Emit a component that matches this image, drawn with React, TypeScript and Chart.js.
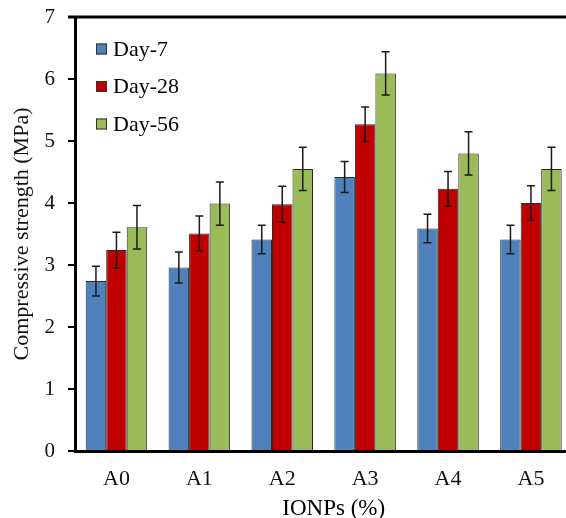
import React, { useEffect, useRef } from "react";
import { Chart, registerables } from "chart.js";

Chart.register(...registerables);

// Compressive strength by IONPs dosage, at three curing ages
const categories = ["A0", "A1", "A2", "A3", "A4", "A5"];
const seriesLabels = ["Day-7", "Day-28", "Day-56"];
const day7 = [2.74, 2.96, 3.41, 4.42, 3.59, 3.41];
const day28 = [3.24, 3.51, 3.98, 5.27, 4.23, 4.0];
const day56 = [3.61, 3.99, 4.55, 6.09, 4.8, 4.55];
const day7Err = [0.24, 0.25, 0.23, 0.25, 0.23, 0.23];
const day28Err = [0.29, 0.28, 0.29, 0.28, 0.28, 0.28];
const day56Err = [0.35, 0.35, 0.35, 0.35, 0.35, 0.35];
const yMin = 0;
const yMax = 7;
const yStep = 1;
const xTitle = "IONPs (%)";
const yTitle = "Compressive strength (MPa)";

const seriesColors = ["#4F81BD", "#C00000", "#9BBB59"];
const FONT = "'Liberation Serif', 'Times New Roman', serif";

// Vertical error bars drawn at each bar's centre
const errorBarPlugin = {
  id: "errorBars",
  afterDatasetsDraw(chart: any) {
    const { ctx } = chart;
    const yScale = chart.scales.y;
    chart.data.datasets.forEach((ds: any, i: number) => {
      const meta = chart.getDatasetMeta(i);
      meta.data.forEach((bar: any, j: number) => {
        const v = ds.data[j];
        const e = ds.errors[j];
        const top = yScale.getPixelForValue(v + e);
        const bot = yScale.getPixelForValue(v - e);
        const cap = 4;
        ctx.save();
        ctx.strokeStyle = "#1a1a1a";
        ctx.lineWidth = 1.5;
        ctx.beginPath();
        ctx.moveTo(bar.x, top);
        ctx.lineTo(bar.x, bot);
        ctx.moveTo(bar.x - cap, top);
        ctx.lineTo(bar.x + cap, top);
        ctx.moveTo(bar.x - cap, bot);
        ctx.lineTo(bar.x + cap, bot);
        ctx.stroke();
        ctx.restore();
      });
    });
  },
};

// Top frame line, legend inside the plot and the x-axis title
const decorPlugin = {
  id: "decor",
  afterDraw(chart: any) {
    const { ctx, chartArea } = chart;
    const yScale = chart.scales.y;
    ctx.save();
    // top frame line
    const yTop = yScale.getPixelForValue(yMax);
    ctx.strokeStyle = "#000";
    ctx.lineWidth = 3;
    ctx.beginPath();
    ctx.moveTo(chartArea.left - 7, yTop);
    ctx.lineTo(chart.width, yTop);
    ctx.stroke();

    // legend
    ctx.font = `22px ${FONT}`;
    ctx.textBaseline = "middle";
    ctx.textAlign = "left";
    chart.data.datasets.forEach((ds: any, i: number) => {
      const cy = chartArea.top + 32 + i * 37.5;
      const bx = chartArea.left + 21;
      ctx.fillStyle = ds.backgroundColor;
      ctx.fillRect(bx, cy - 5.5, 11, 11);
      ctx.strokeStyle = "#333";
      ctx.lineWidth = 1;
      ctx.strokeRect(bx + 0.5, cy - 5, 10, 10);
      ctx.fillStyle = "#000";
      ctx.fillText(ds.label, bx + 17, cy + 1);
    });

    // x-axis title
    ctx.font = `23px ${FONT}`;
    ctx.textAlign = "center";
    ctx.fillStyle = "#000";
    ctx.fillText(xTitle, (chartArea.left + chartArea.right) / 2 + 10, 509);
    ctx.restore();
  },
};

export default function App() {
  const canvasRef = useRef<HTMLCanvasElement | null>(null);

  useEffect(() => {
    if (!canvasRef.current) return;
    const chart = new Chart(canvasRef.current, {
      type: "bar",
      data: {
        labels: categories,
        datasets: [
          { label: seriesLabels[0], data: day7, errors: day7Err, backgroundColor: seriesColors[0] },
          { label: seriesLabels[1], data: day28, errors: day28Err, backgroundColor: seriesColors[1] },
          { label: seriesLabels[2], data: day56, errors: day56Err, backgroundColor: seriesColors[2] },
        ].map((d: any) => ({
          ...d,
          borderColor: "#2a2a2a",
          borderWidth: 1,
          categoryPercentage: 0.742,
          barPercentage: 1,
        })),
      } as any,
      options: {
        animation: false,
        responsive: false,
        devicePixelRatio: 1,
        layout: { padding: { top: 17, right: 27.6, left: 0, bottom: 0 } },
        plugins: {
          legend: { display: false },
          tooltip: { enabled: false },
        },
        scales: {
          x: {
            grid: { display: false },
            border: { display: true, color: "#000", width: 3 },
            ticks: {
              color: "#111",
              font: { family: FONT, size: 22 },
              padding: 7,
              maxRotation: 0,
            },
            afterFit(scale: any) {
              scale.height = 79;
              scale.paddingLeft = 0;
              scale.paddingRight = 0;
            },
          },
          y: {
            min: yMin,
            max: yMax,
            grid: {
              drawOnChartArea: false,
              drawTicks: true,
              tickLength: 7,
              color: "#000",
              lineWidth: 2,
            },
            border: { display: true, color: "#000", width: 3 },
            ticks: {
              stepSize: yStep,
              color: "#111",
              font: { family: FONT, size: 21 },
              padding: 13,
            },
            title: {
              display: true,
              text: yTitle,
              color: "#111",
              font: { family: FONT, size: 22 },
              padding: { top: 9, bottom: 0 },
            },
            afterFit(scale: any) {
              scale.width = 75;
              scale.paddingTop = 0;
              scale.paddingBottom = 0;
            },
          },
        },
      },
      plugins: [errorBarPlugin, decorPlugin],
    } as any);
    return () => chart.destroy();
  }, []);

  return (
    <div
      style={{
        position: "absolute",
        left: 0,
        top: 0,
        width: 566,
        height: 518,
        overflow: "hidden",
        background: "#fff",
      }}
    >
      <canvas ref={canvasRef} width={600} height={530} style={{ display: "block", width: 600, height: 530 }} />
    </div>
  );
}
